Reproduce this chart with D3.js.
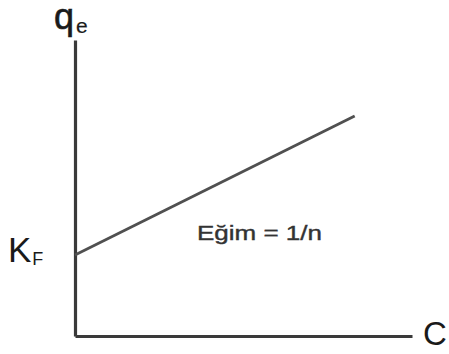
<!DOCTYPE html>
<html>
<head>
<meta charset="utf-8">
<script src="https://cdn.jsdelivr.net/npm/d3@7"></script>
<style>
  html, body { margin: 0; padding: 0; background: #fff; }
  svg { display: block; font-family: "Liberation Sans", Arial, sans-serif; }
  .axis path { stroke: #3a3a3a; stroke-width: 3.2; }
  .fit-line { fill: none; stroke: #505050; stroke-width: 2.8; }
  .lab { fill: #1a1a1a; }
</style>
</head>
<body>
<svg id="chart" width="449" height="354"></svg>
<script>
// Freundlich isotherm sketch: qe vs C, intercept KF, slope 1/n
const xDomain = [0, 10];
const yDomain = [0, 10];
const lineC = [0, 8.3];
const lineQ = [2.74, 7.43];
const slopeLabel = "Eğim = 1/n";

const svg = d3.select("#chart");
const x0 = 75, x1 = 412, yTop = 40, yBottom = 336;

const xScale = d3.scaleLinear().domain(xDomain).range([x0, x1]);
const yScale = d3.scaleLinear().domain(yDomain).range([yBottom, yTop]);

svg.append("g").attr("class", "axis")
  .attr("transform", `translate(0,${yBottom})`)
  .call(d3.axisBottom(xScale).ticks(0).tickSizeOuter(0));
svg.append("g").attr("class", "axis")
  .attr("transform", `translate(${x0},0)`)
  .call(d3.axisLeft(yScale).ticks(0).tickSizeOuter(0));

const pts = lineC.map((c, i) => ({ c, q: lineQ[i] }));
svg.append("path").datum(pts).attr("class", "fit-line")
  .attr("d", d3.line().x(d => xScale(d.c)).y(d => yScale(d.q)));

// axis titles
const qLab = svg.append("text").attr("class", "lab").attr("x", 54).attr("y", 29)
  .attr("stroke", "#1a1a1a").attr("stroke-width", 0.6);
qLab.append("tspan").attr("font-size", 36).text("q");
qLab.append("tspan").attr("font-size", 21).attr("dx", 2).attr("dy", 4)
  .attr("stroke-width", 0.2).text("e");

svg.append("text").attr("class", "lab").attr("x", 423).attr("y", 345)
  .attr("font-size", 33).text("C");

const kLab = svg.append("text").attr("class", "lab").attr("x", 8).attr("y", 262);
kLab.append("tspan").attr("font-size", 35).text("K");
kLab.append("tspan").attr("font-size", 18).attr("dx", 1).attr("dy", 3).text("F");

svg.append("text").attr("x", 197).attr("y", 240).attr("font-size", 21)
  .attr("fill", "#333").attr("stroke", "#333").attr("stroke-width", 0.4)
  .attr("textLength", 125).attr("lengthAdjust", "spacingAndGlyphs")
  .text(slopeLabel);
</script>
</body>
</html>
